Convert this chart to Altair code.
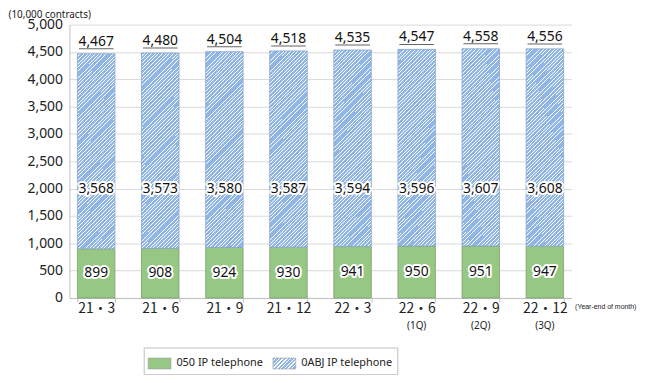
import json
import altair as alt
import pandas as pd

# ---- data ----
cats = ["21・3", "21・6", "21・9", "21・12", "22・3", "22・6", "22・9", "22・12"]
subs = ["", "", "", "", "", "(1Q)", "(2Q)", "(3Q)"]
v050 = [899, 908, 924, 930, 941, 950, 951, 947]
v0abj = [3568, 3573, 3580, 3587, 3594, 3596, 3607, 3608]
totals = [4467, 4480, 4504, 4518, 4535, 4547, 4558, 4556]
series = ["050 IP telephone", "0ABJ IP telephone"]

df = pd.DataFrame({"cat": cats, "sub": subs, "v050": v050, "v0abj": v0abj, "total": totals})
df["mid050"] = df["v050"] / 2

W, H = 507, 276
GREEN = "#96c884"
BLUE = "#8fb6e6"


def hatch(w, h, n_periods, frac=0.75):
    L = w + h
    a = w * L / (w * w + h * h)
    stops = []
    for k in range(n_periods):
        o0 = k / n_periods
        o1 = (k + frac) / n_periods
        o2 = (k + 1) / n_periods
        stops += [
            {"offset": round(o0, 6), "color": BLUE},
            {"offset": round(o1, 6), "color": BLUE},
            {"offset": round(o1, 6), "color": "#ffffff"},
            {"offset": round(o2, 6), "color": "#ffffff"},
        ]
    return {"gradient": "linear", "x1": 0, "y1": 0, "x2": round(a, 5),
            "y2": round(a * h / w, 5), "stops": stops}


bar_grad = hatch(37.9, 198.0, 64)
swatch_grad = hatch(23, 11, 9, 0.65)

xenc = alt.X(
    "cat:N", sort=cats,
    scale=alt.Scale(paddingInner=0.415, paddingOuter=0.125),
    axis=alt.Axis(
        title="(Year-end of month)", titleX=W + 3, titleY=9, titleAlign="left",
        titleBaseline="middle", titleFontSize=7, titleFont="Liberation Sans Narrow, Liberation Sans",
        titleFontWeight="normal", titleColor="#222",
        labelAngle=0, labelFont="Noto Sans CJK JP", labelFontSize=14, labelColor="#222",
        tickBand="extent", tickSize=4, tickColor="#bfbfbf", domainColor="#bfbfbf",
        labelPadding=0,
    ),
)
yscale = alt.Scale(domain=[0, 5000], nice=False)
yaxis = alt.Axis(
    values=list(range(0, 5001, 500)), format=",",
    labelExpr="format(datum.value, ',')", title="(10,000 contracts)",
    titleAngle=0, titleAlign="left", titleBaseline="alphabetic", titleX=-62, titleY=-7,
    titleFontSize=10, titleFontWeight="normal", titleColor="#222", titleFont="Noto Sans",
    labelFontSize=14, labelColor="#222", labelFont="Noto Sans", ticks=False, labelPadding=7,
    gridColor="#d9d9d9", domainColor="#bfbfbf",
)

base = alt.Chart(df)

green = base.mark_bar(fill=GREEN, stroke="#7f9f70", strokeWidth=0.8).encode(
    x=xenc, y=alt.Y("v050:Q", scale=yscale, axis=yaxis)
)
blue = base.mark_bar(fill=bar_grad, stroke="#8aa5c8", strokeWidth=0.8).encode(
    x=alt.X("cat:N", sort=cats), y=alt.Y("v050:Q", axis=yaxis), y2="total:Q"
)


def halo_text(y, field, **kw):
    common = dict(fontSize=14, font="Noto Sans", **kw)
    h = base.mark_text(stroke="white", strokeWidth=4, strokeJoin="round", fill="white", **common).encode(
        x=alt.X("cat:N", sort=cats), y=y, text=alt.Text(field, format=",")
    )
    t = base.mark_text(fill="#111", **common).encode(
        x=alt.X("cat:N", sort=cats), y=y, text=alt.Text(field, format=",")
    )
    return [h, t]


lab_green = halo_text(alt.Y("mid050:Q", axis=yaxis), "v050:Q", baseline="middle")
lab_blue = halo_text(alt.YDatum(2000, axis=yaxis), "v0abj:Q", baseline="middle")

tot_text = base.mark_text(fontSize=14, font="Noto Sans", fill="#111", baseline="alphabetic", dy=-8).encode(
    x=alt.X("cat:N", sort=cats), y=alt.Y("total:Q", axis=yaxis), text=alt.Text("total:Q", format=",")
)
underline = base.mark_tick(orient="horizontal", size=35, thickness=1, color="#222", yOffset=-5).encode(
    x=alt.X("cat:N", sort=cats), y=alt.Y("total:Q", axis=yaxis)
)
sub_text = base.transform_filter("datum.sub != ''").mark_text(
    fontSize=10, font="Noto Sans", fill="#222", baseline="middle"
).encode(x=alt.X("cat:N", sort=cats), y=alt.value(H + 28), text="sub:N")

leg_df = pd.DataFrame({"series": series})
legend_layer = alt.Chart(leg_df).mark_bar(opacity=0).encode(
    color=alt.Color(
        "series:N",
        scale=alt.Scale(domain=series, range=[GREEN, {"expr": json.dumps(swatch_grad)}]),
        legend=alt.Legend(
            orient="none", legendX=75, legendY=326, direction="horizontal", title=None,
            symbolType="M-1,-0.478H1V0.478H-1Z", symbolSize=529,
            symbolStrokeColor="#999", symbolStrokeWidth=0.6, symbolOpacity=1,
            labelFontSize=11, labelFont="Noto Sans", labelColor="#222",
            columnPadding=8, labelOffset=5, strokeColor="#bfbfbf", padding=4,
            cornerRadius=0, fillColor="white",
        ),
    )
)

chart = alt.layer(
    green, blue, *lab_green, *lab_blue, underline, tot_text, sub_text, legend_layer
).properties(
    width=W, height=H,
    autosize=alt.AutoSizeParams(type="none"),
    padding={"left": 62, "top": 15, "right": 67, "bottom": 76},
    background="white",
).configure_view(stroke=None).configure_axisY(format=",")

chart.save("out.html", embed_options={"renderer": "svg", "actions": False})
